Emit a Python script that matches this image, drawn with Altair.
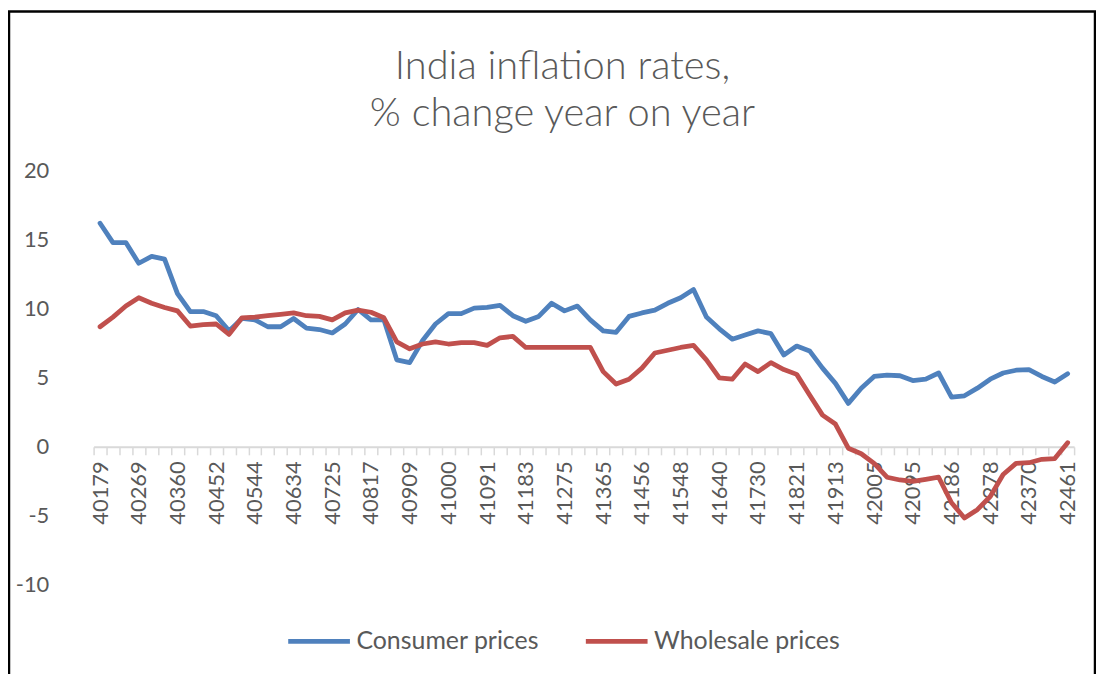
import altair as alt
import pandas as pd

serials = [40179, 40210, 40238, 40269, 40299, 40330, 40360, 40391, 40422, 40452, 40483, 40513,
           40544, 40575, 40603, 40634, 40664, 40695, 40725, 40756, 40787, 40817, 40848, 40878,
           40909, 40940, 40969, 41000, 41030, 41061, 41091, 41122, 41153, 41183, 41214, 41244,
           41275, 41306, 41334, 41365, 41395, 41426, 41456, 41487, 41518, 41548, 41579, 41609,
           41640, 41671, 41699, 41730, 41760, 41791, 41821, 41852, 41883, 41913, 41944, 41974,
           42005, 42036, 42064, 42095, 42125, 42156, 42186, 42217, 42248, 42278, 42309, 42339,
           42370, 42401, 42430, 42461]

consumer = [16.2, 14.8, 14.8, 13.3, 13.8, 13.6, 11.1, 9.8, 9.8, 9.5, 8.4, 9.3,
            9.2, 8.7, 8.7, 9.3, 8.6, 8.5, 8.25, 8.9, 9.95, 9.2, 9.2, 6.3,
            6.1, 7.7, 8.9, 9.65, 9.65, 10.05, 10.1, 10.25, 9.5, 9.1, 9.45, 10.4,
            9.85, 10.2, 9.2, 8.4, 8.3, 9.45, 9.7, 9.9, 10.4, 10.8, 11.4, 9.4,
            8.55, 7.8, 8.1, 8.4, 8.2, 6.65, 7.3, 6.95, 5.7, 4.6, 3.15, 4.25,
            5.1, 5.2, 5.15, 4.8, 4.9, 5.35, 3.6, 3.7, 4.25, 4.9, 5.35, 5.55,
            5.6, 5.1, 4.7, 5.3]

wholesale = [8.7, 9.4, 10.2, 10.8, 10.4, 10.1, 9.85, 8.75, 8.85, 8.9, 8.15, 9.35,
             9.4, 9.5, 9.6, 9.7, 9.5, 9.45, 9.2, 9.7, 9.9, 9.75, 9.35, 7.6,
             7.1, 7.45, 7.6, 7.45, 7.55, 7.55, 7.35, 7.9, 8.0, 7.2, 7.2, 7.2,
             7.2, 7.2, 7.2, 5.45, 4.55, 4.9, 5.7, 6.8, 7.0, 7.2, 7.35, 6.3,
             5.0, 4.9, 6.0, 5.45, 6.1, 5.6, 5.25, 3.75, 2.3, 1.65, -0.1, -0.5,
             -1.2, -2.2, -2.4, -2.5, -2.35, -2.2, -4.05, -5.15, -4.55, -3.6, -2.0, -1.2,
             -1.15, -0.9, -0.85, 0.3]

series_names = ["Consumer prices", "Wholesale prices"]
colors = ["#4F81BD", "#C0504D"]
y_ticks = [-10, -5, 0, 5, 10, 15, 20]
title_lines = ["India inflation rates,", "% change year on year"]

rows = []
for s, c, w in zip(serials, consumer, wholesale):
    rows.append({"period": s, "series": series_names[0], "value": c})
    rows.append({"period": s, "series": series_names[1], "value": w})
df = pd.DataFrame(rows)

label_vals = serials[::3]
label_expr = "indexof([" + ",".join(str(v) for v in label_vals) + "], datum.value) >= 0 ? '' + datum.value : ''"

FONT = "Lato"
GREY = "#595959"
W, H = 985, 416
zero_from_bottom = H * (0 - (-10)) / 30.0

lines = alt.Chart(df).mark_line(strokeWidth=4.8, strokeJoin="round", strokeCap="round").encode(
    x=alt.X("period:O", bandPosition=0.5,
            scale=alt.Scale(type="band", paddingInner=0, paddingOuter=0),
            axis=alt.Axis(title=None, offset=-zero_from_bottom, domainColor="#D9D9D9", domainWidth=2,
                          tickColor="#D9D9D9", tickWidth=1.5, tickSize=8, tickBand="extent",
                          labelAngle=270, labelAlign="right", labelBaseline="middle",
                          labelPadding=6, labelFont=FONT, labelFontSize=22, labelColor=GREY,
                          labelExpr=label_expr, labelOverlap=False, grid=False)),
    y=alt.Y("value:Q", scale=alt.Scale(domain=[-10, 20], nice=False, zero=False),
            axis=alt.Axis(title=None, values=y_ticks, domain=False, ticks=False, grid=False,
                          labelPadding=45, labelFont=FONT, labelFontSize=22, labelColor=GREY,
                          labelExpr="'' + datum.value")),
    color=alt.Color("series:N", scale=alt.Scale(domain=series_names, range=colors),
                    legend=alt.Legend(title=None, orient="none", legendX=193, legendY=439,
                                      direction="horizontal", symbolType="stroke",
                                      symbolStrokeWidth=4.8, symbolSize=3844,
                                      labelFont=FONT, labelFontSize=25, labelColor=GREY,
                                      labelLimit=400, labelOffset=4, columnPadding=36)),
)

frame = alt.Chart(pd.DataFrame({"a": [0]})).mark_rect(fillOpacity=0, stroke="black", strokeWidth=2.5).encode(
    x=alt.value(-85), x2=alt.value(1006), y=alt.value(-160), y2=alt.value(580)
)

title = alt.Chart(pd.DataFrame({"t": ["\n".join(title_lines)]})).mark_text(
    font=FONT, fontSize=40, fontWeight=300, color=GREY, lineBreak="\n", lineHeight=47,
    align="center", baseline="middle"
).encode(text="t:N", x=alt.value(471), y=alt.value(-104))

chart = alt.layer(frame, title, lines).properties(
    width=W, height=H,
    autosize="none",
    padding={"left": 86, "top": 162, "right": 22, "bottom": 88},
).configure_view(stroke=None)

chart.save("out.html", embed_options={"renderer": "svg", "actions": False})
